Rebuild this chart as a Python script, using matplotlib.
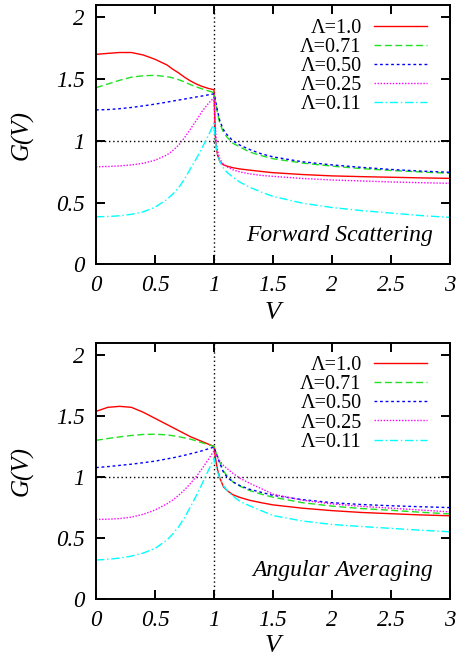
import matplotlib
matplotlib.use("Agg")
import matplotlib.pyplot as plt
from matplotlib.lines import Line2D

plt.rcParams['font.family'] = ['Liberation Serif', 'DejaVu Serif']

# sample voltages shared by every curve
v = [0, 0.1, 0.2, 0.3, 0.4, 0.5, 0.6, 0.65, 0.7, 0.75, 0.8, 0.85, 0.9, 0.95, 1.0,
     1.01, 1.02, 1.03, 1.05, 1.08, 1.11, 1.16, 1.22, 1.3, 1.4, 1.5,
     1.75, 2.0, 2.25, 2.5, 2.75, 3.0]

labels = ['Λ=1.0', 'Λ=0.71', 'Λ=0.50', 'Λ=0.25', 'Λ=0.11']

# forward scattering conductance
fwd_100 = [1.70, 1.708, 1.715, 1.715, 1.695, 1.66, 1.615, 1.58, 1.55, 1.515, 1.485, 1.46, 1.44, 1.425, 1.413,
           1.05, 0.94, 0.885, 0.83, 0.805, 0.795, 0.782, 0.772, 0.763, 0.752, 0.742,
           0.727, 0.716, 0.71, 0.705, 0.70, 0.696]
fwd_071 = [1.43, 1.46, 1.49, 1.515, 1.527, 1.53, 1.52, 1.51, 1.495, 1.477, 1.455, 1.437, 1.42, 1.405, 1.39,
           1.33, 1.27, 1.22, 1.14, 1.07, 1.03, 0.98, 0.95, 0.91, 0.88, 0.855,
           0.82, 0.795, 0.775, 0.76, 0.748, 0.737]
fwd_050 = [1.25, 1.253, 1.26, 1.27, 1.283, 1.297, 1.313, 1.322, 1.33, 1.338, 1.347, 1.355, 1.363, 1.372, 1.38,
           1.34, 1.29, 1.24, 1.16, 1.09, 1.05, 1.0, 0.965, 0.93, 0.895, 0.87,
           0.83, 0.805, 0.785, 0.768, 0.755, 0.745]
fwd_025 = [0.79, 0.792, 0.797, 0.805, 0.818, 0.843, 0.885, 0.92, 0.965, 1.025, 1.095, 1.165, 1.24, 1.30, 1.35,
           1.15, 0.98, 0.92, 0.85, 0.81, 0.79, 0.765, 0.748, 0.733, 0.72, 0.712,
           0.695, 0.683, 0.675, 0.667, 0.661, 0.656]
fwd_011 = [0.385, 0.387, 0.393, 0.405, 0.425, 0.462, 0.525, 0.568, 0.62, 0.69, 0.775, 0.855, 0.945, 1.04, 1.14,
           1.02, 0.94, 0.89, 0.83, 0.78, 0.745, 0.705, 0.665, 0.625, 0.585, 0.55,
           0.495, 0.46, 0.435, 0.415, 0.395, 0.38]

# angular averaging conductance
ang_100 = [1.537, 1.57, 1.578, 1.57, 1.53, 1.48, 1.43, 1.405, 1.38, 1.355, 1.33, 1.31, 1.29, 1.27, 1.25,
           1.17, 1.11, 1.06, 0.99, 0.92, 0.89, 0.855, 0.833, 0.81, 0.79, 0.772,
           0.745, 0.725, 0.71, 0.70, 0.69, 0.683]
ang_071 = [1.30, 1.315, 1.328, 1.34, 1.348, 1.35, 1.345, 1.338, 1.33, 1.32, 1.31, 1.295, 1.28, 1.265, 1.25,
           1.22, 1.19, 1.17, 1.12, 1.05, 1.01, 0.96, 0.925, 0.89, 0.86, 0.835,
           0.79, 0.762, 0.742, 0.728, 0.712, 0.698]
ang_050 = [1.077, 1.085, 1.095, 1.105, 1.117, 1.13, 1.148, 1.157, 1.167, 1.178, 1.19, 1.202, 1.215, 1.23, 1.245,
           1.22, 1.19, 1.16, 1.11, 1.04, 1.0, 0.96, 0.93, 0.90, 0.875, 0.85,
           0.815, 0.79, 0.775, 0.765, 0.757, 0.75]
ang_025 = [0.653, 0.655, 0.66, 0.672, 0.695, 0.73, 0.78, 0.812, 0.85, 0.895, 0.947, 1.005, 1.07, 1.14, 1.215,
           1.2, 1.18, 1.16, 1.13, 1.095, 1.07, 1.03, 0.99, 0.95, 0.905, 0.86,
           0.81, 0.78, 0.76, 0.745, 0.73, 0.715]
ang_011 = [0.321, 0.327, 0.337, 0.353, 0.378, 0.416, 0.484, 0.533, 0.593, 0.668, 0.756, 0.848, 0.947, 1.05, 1.155,
           1.11, 1.07, 1.04, 0.99, 0.93, 0.89, 0.845, 0.80, 0.765, 0.725, 0.685,
           0.64, 0.612, 0.595, 0.58, 0.565, 0.552]

colors = ['#ff0000', '#22e022', '#0000ff', '#ff00ff', '#00ffff']
styles = ['-', (0, (5, 2.5)), (0, (2, 2)), (0, (1, 1.2)), (0, (6, 2, 1, 2))]

fig = plt.figure(figsize=(4.58, 6.6), dpi=100)
ax1 = fig.add_axes([0.2096, 0.5995, 0.773, 0.393])
ax2 = fig.add_axes([0.2096, 0.092, 0.773, 0.389])


def draw_panel(ax, curves, title, xlab_y):
    ax.axhline(1.0, color='black', lw=1.0, ls=(0, (1, 2)))
    ax.axvline(1.0, color='black', lw=1.0, ls=(0, (1, 2)))
    handles = []
    for g, c, s, lab in zip(curves, colors, styles, labels):
        ax.plot(v, g, color=c, ls=s, lw=1.0)
        handles.append(Line2D([], [], color=c, ls=s, lw=1.0, label=lab))
    ax.set_xlim(0, 3)
    ax.set_ylim(0, 2.1)
    ax.set_xticks([0, 0.5, 1, 1.5, 2, 2.5, 3])
    ax.set_xticklabels(['0', '0.5', '1', '1.5', '2', '2.5', '3'])
    ax.set_yticks([0, 0.5, 1, 1.5, 2])
    ax.set_yticklabels(['0', '0.5', '1', '1.5', '2'])
    ax.tick_params(direction='in', length=6.5, width=1.4, top=True, right=True,
                   labelsize=16.5, pad=8)
    for lbl in ax.get_xticklabels() + ax.get_yticklabels():
        lbl.set_fontstyle('italic')
    for sp in ax.spines.values():
        sp.set_linewidth(1.4)
    ax.set_ylabel('G(V)', fontsize=18, style='italic', va='center')
    ax.yaxis.set_label_coords(-0.21, 0.5)
    ax.set_xlabel('V', fontsize=19, style='italic', va='center')
    ax.xaxis.set_label_coords(0.5, xlab_y)
    ax.legend(handles=handles, loc='upper right', bbox_to_anchor=(0.935, 0.947),
              markerfirst=False, frameon=False, fontsize=14.5, handlelength=2.65,
              handletextpad=0.6, labelspacing=0.0, borderpad=0, borderaxespad=0)
    ax.text(0.952, 0.113, title, transform=ax.transAxes, ha='right', va='center',
            fontsize=17, style='italic')


draw_panel(ax1, [fwd_100, fwd_071, fwd_050, fwd_025, fwd_011], 'Forward Scattering', -0.186)
draw_panel(ax2, [ang_100, ang_071, ang_050, ang_025, ang_011], 'Angular Averaging', -0.182)

fig.savefig('out.png', dpi=100)
